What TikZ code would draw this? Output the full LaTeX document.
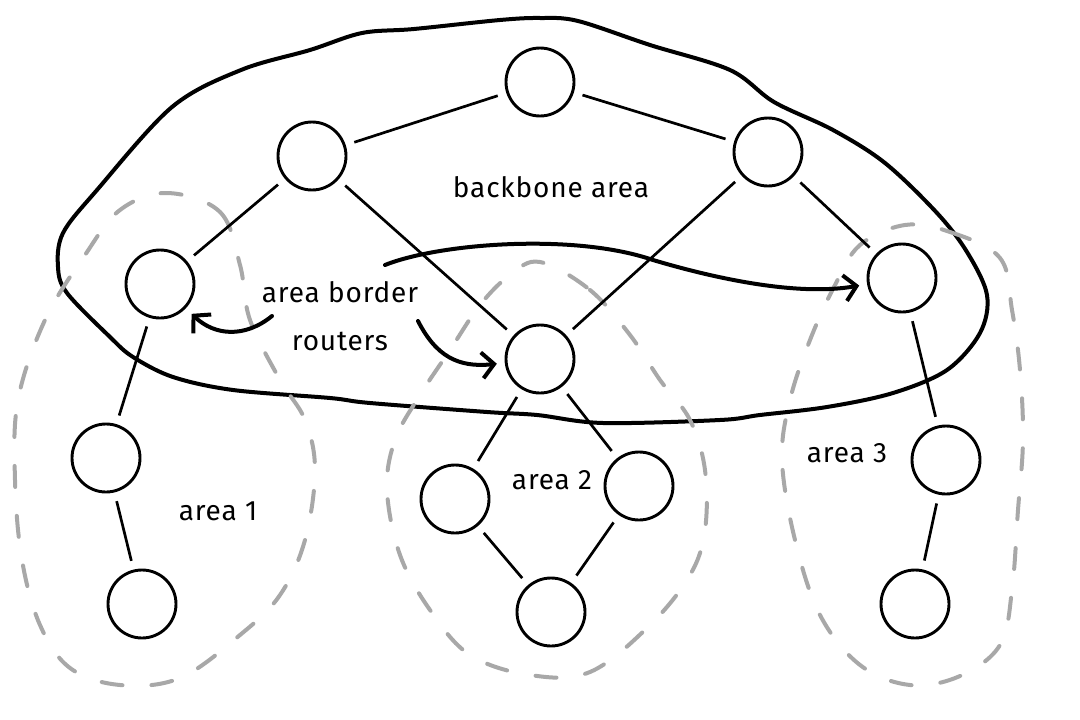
\documentclass[tikz,border=0pt]{standalone}
\usepackage{fontspec}
\setmainfont{Fira Sans}
\usetikzlibrary{arrows.meta}
\tikzset{
  router/.style={circle,draw=black,line width=2.9pt,minimum size=68pt,inner sep=0pt},
  link/.style={draw=black,line width=2.7pt,shorten >=9pt,shorten <=9pt},
  blob/.style={draw=black,line width=4pt,line join=round},
  arealine/.style={draw=black!34,line width=4pt,line cap=round,dash pattern=on 21pt off 29pt},
  callout/.style={draw=black,line width=4pt,line cap=round,-{Straight Barb[length=12pt,width=26pt,line width=4pt]},shorten >=8pt},
  label/.style={anchor=base,inner sep=0pt,font=\fontsize{28}{32}\selectfont\addfontfeature{LetterSpace=3}}
}
\begin{document}
\begin{tikzpicture}[x=1pt,y=-1pt]
\useasboundingbox (0,0) rectangle (1080,720);
\fill[white] (0,0) rectangle (1080,720);

% backbone area outline
\draw[blob] plot[smooth cycle,tension=0.55] coordinates {
 (63,233) (97,190) (172,107) (241,70) (310,50) (362,33) (414,29) (500,20) (540,18) (578,21)
 (650,45) (730,70) (774,102) (833,130) (885,163) (937,213) (967,252) (987,295)
 (980,333) (947,370) (893,393) (827,407) (760,415) (720,420) (603,423) (537,415) (487,412)
 (370,403) (330,398) (233,390) (173,377) (133,357) (110,337) (67,293) (58,267)};

% area 1
\draw[arealine] plot[smooth cycle,tension=0.6] coordinates {
 (167,193) (220,212) (240,265) (250,320) (280,380) (305,420) (315,470) (305,540) (280,595)
 (240,635) (180,678) (120,685) (70,668) (40,625) (22,560) (15,480) (18,400) (45,320) (85,255) (120,210)};
% area 2
\draw[arealine] plot[smooth cycle,tension=0.6] coordinates {
 (540,262) (590,290) (630,335) (660,380) (690,420) (705,470) (705,530) (690,575) (650,625)
 (590,672) (530,675) (470,655) (430,610) (400,555) (387,490) (395,440) (420,395) (450,350) (480,305) (510,275)};
% area 3
\draw[arealine] plot[smooth cycle,tension=0.6] coordinates {
 (905,225) (950,232) (1000,258) (1012,310) (1020,370) (1023,440) (1018,510) (1012,590) (1000,645)
 (960,676) (910,685) (860,665) (820,615) (795,540) (782,460) (790,400) (810,340) (835,285) (860,245)};

% routers
\node[router] (T)   at (540,82)  {};
\node[router] (UL)  at (312,156) {};
\node[router] (UR)  at (768,152) {};
\node[router] (L)   at (160,284) {};
\node[router] (M)   at (540,359) {};
\node[router] (R)   at (902,278) {};
\node[router] (A1a) at (106,458) {};
\node[router] (A1b) at (142,604) {};
\node[router] (A2l) at (455,499) {};
\node[router] (A2r) at (639,486) {};
\node[router] (A2b) at (551,612) {};
\node[router] (A3a) at (946,460) {};
\node[router] (A3b) at (915,604) {};

% links
\draw[link] (T) -- (UL);
\draw[link] (T) -- (UR);
\draw[link] (UL) -- (L);
\draw[link] (UL) -- (M);
\draw[link] (UR) -- (M);
\draw[link] (UR) -- (R);
\draw[link] (L) -- (A1a);
\draw[link] (A1a) -- (A1b);
\draw[link] (M) -- (A2l);
\draw[link] (M) -- (A2r);
\draw[link] (A2l) -- (A2b);
\draw[link] (A2r) -- (A2b);
\draw[link] (R) -- (A3a);
\draw[link] (A3a) -- (A3b);

% labels
\node[label] (bb) at (551,197) {backbone area};
\node[label] (abr1) at (340,302) {area border};
\node[label] (abr2) at (340,350) {routers};
\node[label] (ar1) at (218,520) {area 1};
\node[label] (ar2) at (552,489) {area 2};
\node[label] (ar3) at (847,462) {area 3};

% callout arrows
\coordinate (cL) at (272,316);
\coordinate (cM) at (418,321);
\coordinate (cR) at (385,265);
\coordinate (cRm) at (653,260);
\draw[callout] (cL) .. controls (245,338) and (215,336) .. (L);
\draw[callout] (cM) .. controls (436,356) and (458,368) .. (M);
\draw[callout] (cR) .. controls (440,243) and (575,233) .. (cRm)
  .. controls (720,280) and (800,296) .. (R);
\end{tikzpicture}
\end{document}
